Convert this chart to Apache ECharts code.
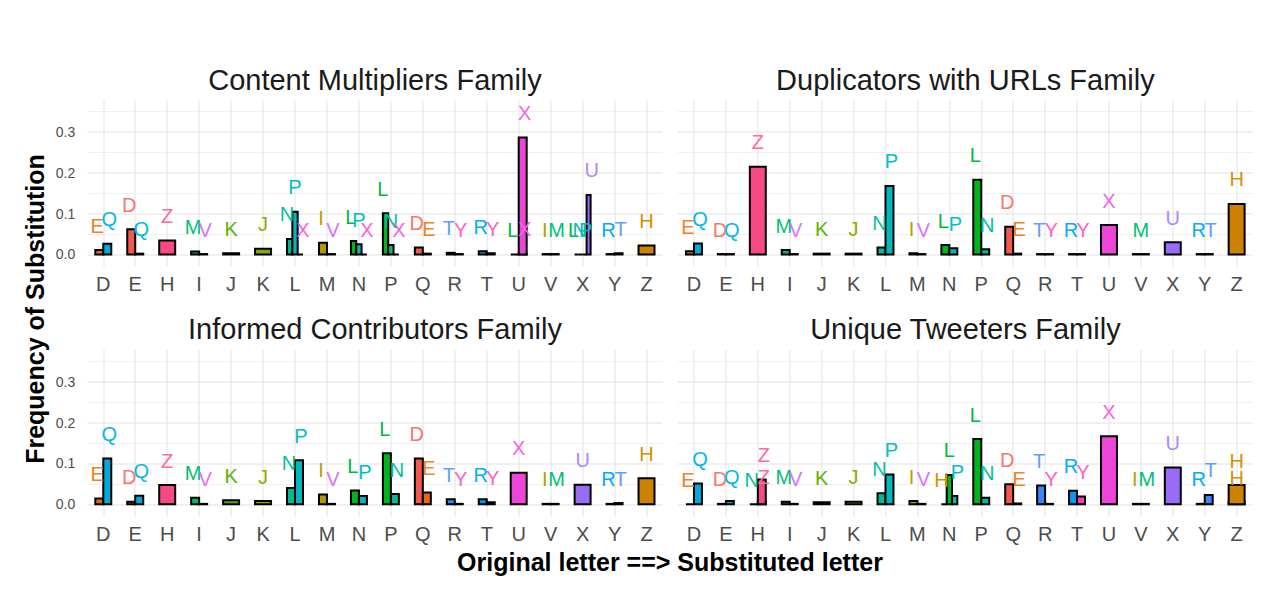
<!DOCTYPE html>
<html><head><meta charset="utf-8">
<script src="https://cdn.jsdelivr.net/npm/echarts@6/dist/echarts.min.js"></script>
<style>html,body{margin:0;padding:0;background:#fff}#c{width:1281px;height:600px}</style>
</head><body><div id="c"></div>
<script>
// Categories (original letters) and fill palette (ggplot hue, 18 levels)
const letters = ['D','E','H','I','J','K','L','M','N','P','Q','R','T','U','V','X','Y','Z'];
const hueColors = ['#F8766D','#E88526','#D39200','#B79F00','#93AA00','#5EB300','#00BA38','#00BF74','#00C19F','#00BFC4','#00B9E3','#00ADFA','#619CFF','#AE87FF','#DB72FB','#F564E3','#FF61C3','#FF699C'];
const panelTitles = ['Content Multipliers Family','Duplicators with URLs Family','Informed Contributors Family','Unique Tweeters Family'];
const yTicks = [0, 0.1, 0.2, 0.3];

// Content Multipliers Family
const cmOrig = ['D','D','E','E','H','I','I','J','K','L','L','L','M','M','N','N','N','P','P','P','Q','Q','R','R','T','T','U','U','U','V','V','X','X','X','X','Y','Y','Z'];
const cmSub  = ['E','Q','D','Q','Z','M','V','K','J','N','P','X','I','V','L','P','X','L','N','X','D','E','T','Y','R','Y','L','X','X','I','M','L','N','P','U','R','T','H'];
const cmFreq = [0.011,0.026,0.062,0.002,0.034,0.007,0.001,0.003,0.014,0.038,0.105,0.000,0.029,0.001,0.033,0.025,0.000,0.101,0.023,0.000,0.017,0.002,0.004,0.001,0.008,0.003,0.000,0.002,0.287,0.001,0.001,0.000,0.000,0.000,0.146,0.001,0.003,0.022];

// Duplicators with URLs Family
const duOrig = ['D','D','E','E','H','I','I','J','K','L','L','M','M','N','N','P','P','Q','Q','R','R','T','T','U','V','X','Y','Y','Z'];
const duSub  = ['E','Q','D','Q','Z','M','V','K','J','N','P','I','V','L','P','L','N','D','E','T','Y','R','Y','X','M','U','R','T','H'];
const duFreq = [0.008,0.027,0.001,0.001,0.215,0.011,0.001,0.002,0.002,0.017,0.168,0.003,0.001,0.023,0.015,0.183,0.013,0.068,0.002,0.001,0.001,0.001,0.001,0.072,0.001,0.030,0.001,0.001,0.124];

// Informed Contributors Family
const icOrig = ['D','D','E','E','H','I','I','J','K','L','L','M','M','N','N','P','P','Q','Q','R','R','T','T','U','V','V','X','Y','Y','Z'];
const icSub  = ['E','Q','D','Q','Z','M','V','K','J','N','P','I','V','L','P','L','N','D','E','T','Y','R','Y','X','I','M','U','R','T','H'];
const icFreq = [0.014,0.112,0.006,0.021,0.047,0.016,0.001,0.010,0.008,0.040,0.108,0.024,0.001,0.034,0.020,0.125,0.025,0.112,0.029,0.012,0.001,0.012,0.005,0.077,0.001,0.001,0.048,0.001,0.003,0.064];

// Unique Tweeters Family
const utOrig = ['D','D','E','E','H','H','H','I','I','J','K','L','L','M','M','N','N','N','P','P','Q','Q','R','R','T','T','U','V','V','X','Y','Y','Z','Z'];
const utSub  = ['E','Q','D','Q','N','Z','Z','M','V','K','J','N','P','I','V','H','L','P','L','N','D','E','T','Y','R','Y','X','I','M','U','R','T','H','H'];
const utFreq = [0.000,0.051,0.001,0.008,0.000,0.007,0.061,0.006,0.001,0.005,0.006,0.027,0.073,0.008,0.001,0.000,0.072,0.020,0.160,0.016,0.049,0.002,0.046,0.001,0.033,0.019,0.167,0.001,0.001,0.090,0.001,0.023,0.005,0.047];

const FONT = '"Liberation Sans", Arial, Helvetica, sans-serif';
// bar fills: a slightly more saturated variant of the label palette
function fillOf(hex) {
  const c = [1, 3, 5].map(i => parseInt(hex.substr(i, 2), 16));
  const mx = Math.max(...c);
  return 'rgb(' + c.map(v => Math.round(Math.max(0, v + (v - mx) * 0.2) * 0.97)).join(',') + ')';
}
const panels = [
  {orig: cmOrig, sub: cmSub, freq: cmFreq},
  {orig: duOrig, sub: duSub, freq: duFreq},
  {orig: icOrig, sub: icSub, freq: icFreq},
  {orig: utOrig, sub: utSub, freq: utFreq}
];
const gridPos = [
  {left: 87.3, top: 100.3, width: 575.2, height: 166.4},
  {left: 678.0, top: 100.3, width: 574.6, height: 166.4},
  {left: 87.3, top: 350.1, width: 575.2, height: 166.4},
  {left: 678.0, top: 350.1, width: 574.6, height: 166.4}
];
const titleCenters = [[375, 80], [965.4, 80], [375, 329], [965.4, 329]];

function buildItems(p) {
  const items = [];
  letters.forEach((L, ci) => {
    const idx = [];
    p.orig.forEach((o, i) => { if (o === L) idx.push(i); });
    const distinct = [...new Set(idx.map(i => p.sub[i]))]
      .sort((a, b) => letters.indexOf(a) - letters.indexOf(b));
    idx.forEach(i => items.push([ci, p.freq[i], distinct.indexOf(p.sub[i]), distinct.length, letters.indexOf(p.sub[i])]));
  });
  return items;
}

function renderBar(params, api) {
  const ci = api.value(0), v = api.value(1), slot = api.value(2), n = api.value(3), li = api.value(4);
  const band = api.size([1, 0])[0];
  const base = api.coord([ci, 0]);
  const top = api.coord([ci, v]);
  const gw = band * 0.5, bw = gw / n;
  const x0 = base[0] - gw / 2 + slot * bw;
  return {
    type: 'rect',
    shape: {x: x0, y: top[1], width: bw, height: base[1] - top[1]},
    style: {fill: fillOf(hueColors[li]), stroke: '#000', lineWidth: 2}
  };
}
function renderLabel(params, api) {
  const ci = api.value(0), v = api.value(1), slot = api.value(2), n = api.value(3), li = api.value(4);
  const band = api.size([1, 0])[0];
  const base = api.coord([ci, 0]);
  const dodge = band * 0.75;
  const lx = base[0] + (slot - (n - 1) / 2) * dodge / n;
  const ly = api.coord([ci, v + 0.06])[1];
  return {
    type: 'text', x: lx, y: ly,
    style: {text: letters[li], fill: hueColors[li], font: '20px ' + FONT,
            textAlign: 'center', textVerticalAlign: 'middle', align: 'center', verticalAlign: 'middle'}
  };
}

const grids = [], xAxes = [], yAxes = [], series = [], graphics = [];
panels.forEach((p, k) => {
  grids.push(Object.assign({containLabel: false}, gridPos[k]));
  xAxes.push({
    type: 'category', gridIndex: k, data: letters, boundaryGap: true,
    axisLine: {show: false}, axisTick: {show: false},
    axisLabel: {color: '#4D4D4D', fontSize: 20, fontFamily: FONT, margin: 7, interval: 0},
    splitLine: {show: true, alignWithLabel: true, lineStyle: {color: '#EBEBEB', width: 1.5}}
  });
  yAxes.push({
    type: 'value', gridIndex: k, min: -0.03, max: 0.378, minInterval: 0.1, maxInterval: 0.1,
    axisLine: {show: false}, axisTick: {show: false},
    axisLabel: {show: k % 2 === 0, color: '#4D4D4D', fontSize: 14, fontFamily: FONT, margin: 12,
      formatter: v => yTicks.some(t => Math.abs(t - v) < 1e-9) ? v.toFixed(1) : ''},
    splitLine: {show: true, showMinLine: false, showMaxLine: false, lineStyle: {color: '#EBEBEB', width: 1.5}},
    minorTick: {show: false, splitNumber: 2},
    minorSplitLine: {show: true, lineStyle: {color: '#F0F0F0', width: 1}}
  });
  const items = buildItems(p);
  series.push({type: 'custom', xAxisIndex: k, yAxisIndex: k, renderItem: renderBar, data: items, z: 2, silent: true, animation: false});
  series.push({type: 'custom', xAxisIndex: k, yAxisIndex: k, renderItem: renderLabel, data: items, z: 3, silent: true, animation: false});
  graphics.push({type: 'text', x: titleCenters[k][0], y: titleCenters[k][1],
    style: {text: panelTitles[k], font: '29px ' + FONT, fill: '#1A1A1A',
            textAlign: 'center', textVerticalAlign: 'middle', align: 'center', verticalAlign: 'middle'}});
});
graphics.push({type: 'text', x: 35, y: 309, rotation: Math.PI / 2,
  style: {text: 'Frequency of Substitution', font: 'bold 25px ' + FONT, fill: '#000',
          textAlign: 'center', textVerticalAlign: 'middle', align: 'center', verticalAlign: 'middle'}});
graphics.push({type: 'text', x: 670, y: 562,
  style: {text: 'Original letter ==> Substituted letter', font: 'bold 25px ' + FONT, fill: '#000',
          textAlign: 'center', textVerticalAlign: 'middle', align: 'center', verticalAlign: 'middle'}});

const chart = echarts.init(document.getElementById('c'), null, {renderer: 'svg'});
chart.setOption({
  backgroundColor: '#fff',
  animation: false,
  grid: grids, xAxis: xAxes, yAxis: yAxes, series: series, graphic: graphics
});
</script>
</body></html>
